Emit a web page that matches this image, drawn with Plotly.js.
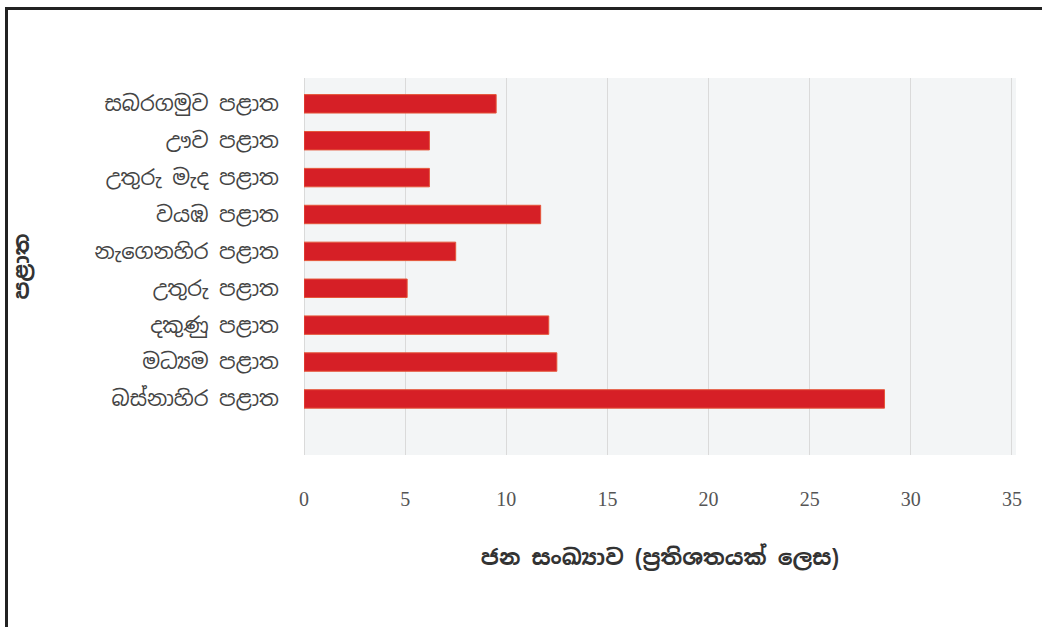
<!DOCTYPE html>
<html>
<head>
<meta charset="utf-8">
<script src="https://cdn.plot.ly/plotly-3.0.1.min.js"></script>
<style>
  html, body { margin: 0; padding: 0; background: #ffffff; }
  #wrap { position: relative; width: 1042px; height: 627px; }
  #chart { width: 1042px; height: 627px; }
  #frameTop { position: absolute; left: 5px; top: 7px; width: 1037px; height: 3px; background: #222; }
  #frameLeft { position: absolute; left: 5px; top: 7px; width: 3px; height: 620px; background: #222; }
</style>
</head>
<body>
<div id="wrap">
  <div id="chart"></div>
  <div id="frameTop"></div>
  <div id="frameLeft"></div>
</div>
<script>
// Data (bottom to top)
const provinces = [
  "බස්නාහිර පළාත",
  "මධ්‍යම පළාත",
  "දකුණු පළාත",
  "උතුරු පළාත",
  "නැගෙනහිර පළාත",
  "වයඹ පළාත",
  "උතුරු මැද පළාත",
  "ඌව පළාත",
  "සබරගමුව පළාත"
];
const populationPct = [28.7, 12.5, 12.1, 5.1, 7.5, 11.7, 6.2, 6.2, 9.5];
const xTickValues = [0, 5, 10, 15, 20, 25, 30, 35];
const xAxisTitle = "ජන සංඛ්‍යාව (ප්‍රතිශතයක් ලෙස)";
const yAxisTitle = "පළාත";

const sinhalaFont = "'Noto Sans Sinhala', 'Iskoola Pota', 'Noto Sans', 'DejaVu Sans', sans-serif";

const trace = {
  type: "bar",
  orientation: "h",
  y: provinces,
  x: populationPct,
  width: 0.5,
  marker: { color: "#d61f26", line: { color: "#e5553a", width: 1 } },
  hoverinfo: "x+y"
};

const layout = {
  width: 1042,
  height: 627,
  margin: { l: 304, r: 26, t: 78, b: 172 },
  paper_bgcolor: "#ffffff",
  plot_bgcolor: "#f3f5f6",
  showlegend: false,
  bargap: 0.5,
  xaxis: {
    range: [0, 35.2],
    tickvals: xTickValues,
    ticktext: xTickValues.map(String),
    showgrid: true,
    gridcolor: "#dadada",
    gridwidth: 1,
    zeroline: true,
    zerolinecolor: "#dadada",
    showline: false,
    ticks: "",
    ticklabelstandoff: 30,
    tickfont: { family: "'Liberation Serif', 'DejaVu Serif', serif", size: 20, color: "#555555" },
    title: {
      text: "<b>" + xAxisTitle + "</b>",
      font: { family: sinhalaFont, size: 22, color: "#333333" },
      standoff: 40
    },
    fixedrange: true
  },
  yaxis: {
    type: "category",
    categoryorder: "array",
    categoryarray: provinces,
    range: [-1.52, 8.7],
    showgrid: false,
    zeroline: false,
    showline: false,
    ticks: "",
    ticklabelstandoff: 24,
    tickfont: { family: sinhalaFont, size: 21, color: "#444444" },
    title: {
      text: "<b>" + yAxisTitle + "</b>",
      font: { family: sinhalaFont, size: 22, color: "#333333" },
      standoff: 58
    },
    fixedrange: true
  }
};

Plotly.newPlot("chart", [trace], layout, { displayModeBar: false, staticPlot: true });
</script>
</body>
</html>
